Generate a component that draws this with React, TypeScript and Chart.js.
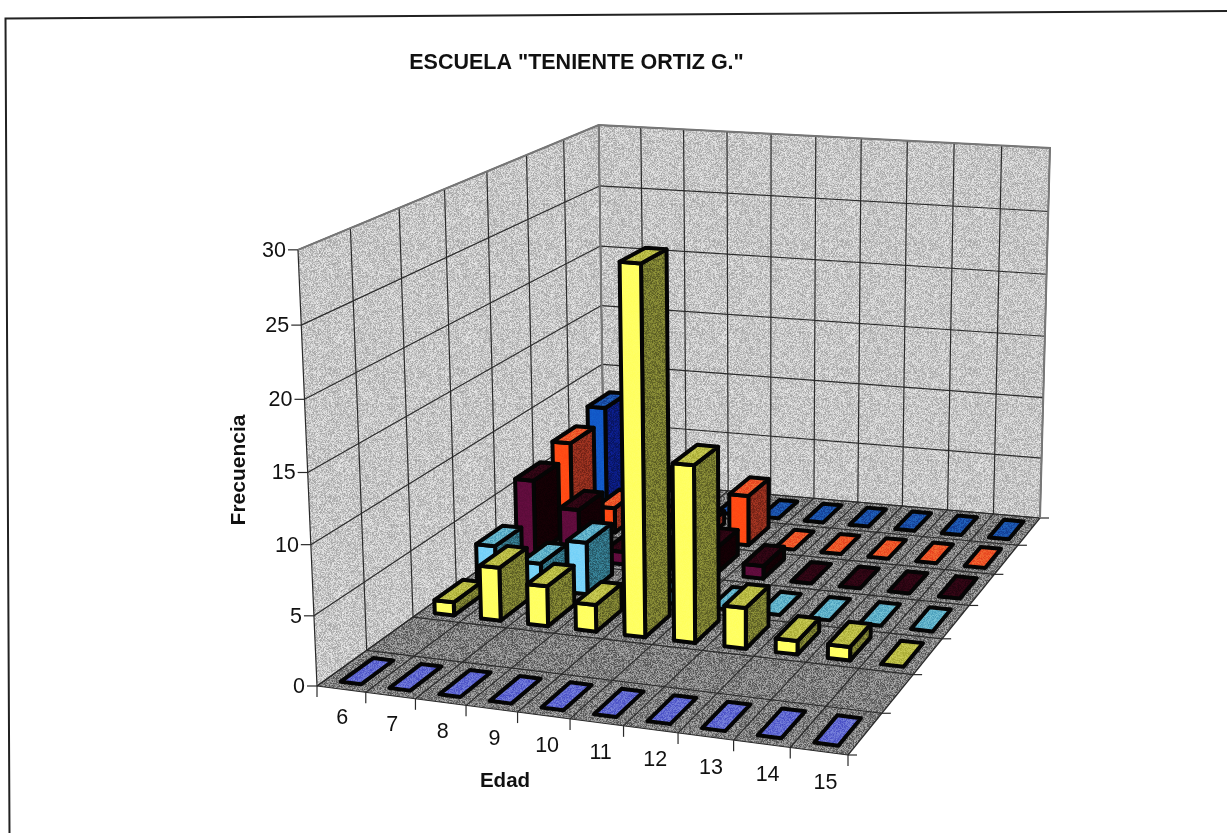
import React, { useEffect, useRef } from "react";
import { Chart, registerables } from "chart.js";

Chart.register(...registerables);

const ages = ["6", "7", "8", "9", "10", "11", "12", "13", "14", "15"];
const seriesNames = ["Serie 1", "Serie 2", "Serie 3", "Serie 4", "Serie 5", "Serie 6", "Serie 7"];
const serie1 = [0, 0, 0, 0, 0, 0, 0, 0, 0, 0];
const serie2: (number | null)[] = [null, null, null, null, null, null, null, null, null, null];
const serie3 = [1, 4, 3, 2, 27, 13, 3, 1, 1, 0];
const serie4 = [3, 2, 4, 0, 1, 0, 0, 0, 0, 0];
const serie5 = [6, 4, 1, 1, 2, 1, 0, 0, 0, 0];
const serie6 = [7, 2, 1, 1, 4, 0, 0, 0, 0, 0];
const serie7 = [8, 2, 1, 0, 0, 0, 0, 0, 0, 0];
const seriesValues = [serie1, serie2, serie3, serie4, serie5, serie6, serie7];

const frontColors = ["#8f97ff", "#cccccc", "#ffff62", "#78d2f8", "#5f0c3c", "#ff4a14", "#1259c8"];
const topColors = ["#6068d0", "#cccccc", "#b9bb45", "#5fb0c8", "#2c0512", "#ec5528", "#1a50a8"];
const sideColors = ["#5058a8", "#888888", "#74772e", "#2f6e80", "#120004", "#8c2c1c", "#0a1a78"];

const FONT = '"Liberation Sans", Arial, sans-serif';
const W = 1227;
const H = 833;

// Camera of the 3D box: floor corners and the vanishing point of the vertical axis.
const FL = [317, 686];
const FR = [848, 755];
const BR = [1040, 518];
const BL = [604, 480];
const VERT = [761, 10862];
const HEIGHT_K = -0.0411;
const HEIGHT_KU = 0.00123;
const HEIGHT_KW = -0.00046;

const den = (FR[0] - BR[0]) * (BL[1] - BR[1]) - (BL[0] - BR[0]) * (FR[1] - BR[1]);
const sx = FL[0] - FR[0] + BR[0] - BL[0];
const sy = FL[1] - FR[1] + BR[1] - BL[1];
const G = (sx * (BL[1] - BR[1]) - (BL[0] - BR[0]) * sy) / den;
const K = ((FR[0] - BR[0]) * sy - sx * (FR[1] - BR[1])) / den;
const project = (u: number, w: number, t: number): [number, number] => {
  const k = t * (HEIGHT_K + HEIGHT_KU * u + HEIGHT_KW * w);
  const d = G * u + K * w + 1 + k;
  const px = (FR[0] - FL[0] + G * FR[0]) * u + (BL[0] - FL[0] + K * BL[0]) * w + FL[0] + k * VERT[0];
  const py = (FR[1] - FL[1] + G * FR[1]) * u + (BL[1] - FL[1] + K * BL[1]) * w + FL[1] + k * VERT[1];
  return [px / d, py / d];
};

const speckle = (base: number, amp: number) => {
  const c = document.createElement("canvas");
  c.width = c.height = 128;
  const g = c.getContext("2d")!;
  const img = g.createImageData(128, 128);
  for (let j = 0; j < 128; j++) {
    for (let i = 0; i < 128; i++) {
      const n = Math.sin(i * 12.9898 + j * 78.233) * 43758.5453;
      const v = base + (n - Math.floor(n) - 0.5) * amp;
      const o = (j * 128 + i) * 4;
      img.data[o] = img.data[o + 1] = img.data[o + 2] = v;
      img.data[o + 3] = 255;
    }
  }
  g.putImageData(img, 0, 0);
  return c;
};

const poly = (g: CanvasRenderingContext2D, pts: [number, number][]) => {
  g.beginPath();
  pts.forEach((p, i) => (i ? g.lineTo(p[0], p[1]) : g.moveTo(p[0], p[1])));
  g.closePath();
};

const scene = {
  id: "scene",
  beforeDatasetsDraw(chart: any) {
    const g: CanvasRenderingContext2D = chart.ctx;
    const { x, y, depth } = chart.scales;
    const n = x.ticks.length;
    const m = depth.ticks.length;
    const U = (i: number) => (x.getPixelForValue(i) - x.left) / x.width;
    const D = (i: number) => (depth.getPixelForValue(i) - depth.left) / depth.width;
    const T = (v: number) => (y.bottom - y.getPixelForValue(v)) / y.height;

    g.save();
    // page frame: a slightly skewed scan, open on the right and at the bottom
    g.strokeStyle = "#222";
    g.lineWidth = 2;
    g.beginPath();
    g.moveTo(9.5, H);
    g.lineTo(5.5, 18.5);
    g.lineTo(W, 11);
    g.stroke();

    // walls and floor
    const wallTex = g.createPattern(speckle(198, 70), "repeat")!;
    const floorTex = g.createPattern(speckle(126, 100), "repeat")!;
    g.fillStyle = wallTex;
    poly(g, [project(0, 0, 0), project(0, 1, 0), project(0, 1, 1), project(0, 0, 1)]);
    g.fill();
    poly(g, [project(0, 1, 0), project(1, 1, 0), project(1, 1, 1), project(0, 1, 1)]);
    g.fill();
    g.fillStyle = floorTex;
    poly(g, [project(0, 0, 0), project(1, 0, 0), project(1, 1, 0), project(0, 1, 0)]);
    g.fill();

    // grid
    const seg = (a: [number, number], b: [number, number]) => {
      g.beginPath();
      g.moveTo(a[0], a[1]);
      g.lineTo(b[0], b[1]);
      g.stroke();
    };
    g.strokeStyle = "#2a2a2a";
    g.lineWidth = 1.2;
    y.ticks.forEach((tk: any) => {
      const t = T(tk.value);
      seg(project(0, 0, t), project(0, 1, t));
      seg(project(0, 1, t), project(1, 1, t));
      const a = project(0, 0, t);
      seg([a[0] - 10, a[1]], a);
    });
    for (let i = 0; i <= n; i++) {
      const u = i / n;
      seg(project(u, 0, 0), project(u, 1, 0));
      seg(project(u, 1, 0), project(u, 1, 1));
      const a = project(u, 0, 0);
      seg(a, [a[0], a[1] + 11]);
    }
    for (let j = 0; j <= m; j++) {
      const w = j / m;
      seg(project(0, w, 0), project(1, w, 0));
      seg(project(0, w, 0), project(0, w, 1));
      const a = project(1, w, 0);
      seg(a, [a[0] + 9, a[1]]);
    }
    // grey outline and corner of the walls
    g.strokeStyle = "#777";
    g.lineWidth = 2;
    g.beginPath();
    [project(0, 0, 1), project(0, 1, 1), project(1, 1, 1), project(1, 1, 0)].forEach((p, i) =>
      i ? g.lineTo(p[0], p[1]) : g.moveTo(p[0], p[1])
    );
    g.stroke();
    seg(project(0, 1, 0), project(0, 1, 1));

    // prisms, painted from the back row forward and from left to right
    const hu = 0.21 / n;
    const hw = 0.33 / m;
    const sideTex = g.createPattern(speckle(128, 255), "repeat")!;
    for (let j = m - 1; j >= 0; j--) {
      const ds = chart.data.datasets[j];
      const c = D(j);
      (ds.data as (number | null)[]).forEach((val, i) => {
        if (val === null) return;
        const a = U(i) + 0.002;
        const t = T(val);
        const [u0, u1, w0, w1] = [a - hu, a + hu, c - hw, c + hw];
        g.lineJoin = "round";
        g.lineWidth = 4;
        g.strokeStyle = "#050505";
        const top = [project(u0, w0, t), project(u1, w0, t), project(u1, w1, t), project(u0, w1, t)];
        const faces: [[number, number][], string, number][] = [];
        if (val > 0) {
          faces.push([[project(u1, w0, 0), project(u1, w1, 0), project(u1, w1, t), project(u1, w0, t)], sideColors[j], 0.13]);
          faces.push([[project(u0, w0, 0), project(u1, w0, 0), project(u1, w0, t), project(u0, w0, t)], ds.backgroundColor, 0.03]);
        }
        faces.push([top, topColors[j], 0.13]);
        faces.forEach(([pts, col, alpha]) => {
          poly(g, pts);
          g.fillStyle = col;
          g.fill();
          g.globalCompositeOperation = "overlay";
          g.globalAlpha = alpha * 2;
          g.fillStyle = sideTex;
          g.fill();
          g.globalAlpha = 1;
          g.globalCompositeOperation = "source-over";
          g.stroke();
        });
      });
    }

    // axis labels
    g.fillStyle = "#111";
    g.font = `21.5px ${FONT}`;
    g.textBaseline = "middle";
    g.textAlign = "right";
    y.ticks.forEach((tk: any) => {
      const a = project(0, 0, T(tk.value));
      g.fillText(String(tk.value), a[0] - 12, a[1] + 1);
    });
    g.textAlign = "center";
    x.ticks.forEach((tk: any, i: number) => {
      const a = project(U(i), 0, 0);
      g.fillText(String(tk.label), a[0] + 1 + i * 0.6, a[1] + 29 + i * 0.3);
    });
    g.font = `bold 20.5px ${FONT}`;
    g.fillText("Edad", 505, 781);
    g.translate(239, 470);
    g.rotate(-Math.PI / 2);
    g.font = `bold 21px ${FONT}`;
    g.fillText("Frecuencia", 0, 0);
    g.restore();
    return false;
  },
};

export default function App() {
  const ref = useRef<HTMLCanvasElement>(null);
  useEffect(() => {
    const chart = new Chart(ref.current!, {
      type: "bar",
      data: {
        labels: ages,
        datasets: seriesValues.map((values, i) => ({
          label: seriesNames[i],
          data: values,
          backgroundColor: frontColors[i],
        })),
      },
      plugins: [scene],
      options: {
        responsive: false,
        animation: false,
        layout: { padding: { top: 50, right: 74, left: 0, bottom: 0 } },
        scales: {
          x: { type: "category", display: false, offset: true },
          y: { type: "linear", min: 0, max: 30, display: false, ticks: { stepSize: 5 } },
          depth: { type: "category", axis: "x", position: "bottom", labels: seriesNames, display: false, offset: true },
        },
        plugins: {
          legend: { display: false },
          tooltip: { enabled: false },
          title: {
            display: true,
            text: 'ESCUELA "TENIENTE ORTIZ G."',
            color: "#111",
            font: { family: FONT, size: 21.5, weight: "bold" },
            padding: 0,
          },
        },
      } as any,
    });
    return () => chart.destroy();
  }, []);
  return <canvas ref={ref} width={W} height={H} style={{ position: "fixed", left: 0, top: 0 }} />;
}
